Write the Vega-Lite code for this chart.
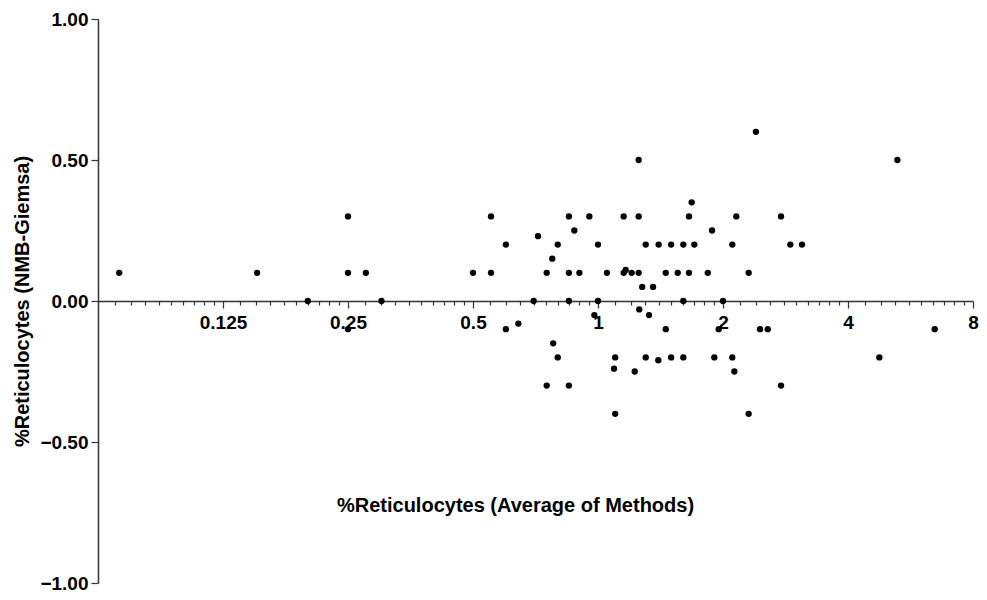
{
  "$schema": "https://vega.github.io/schema/vega-lite/v6.json",
  "width": 875,
  "height": 564,
  "autosize": {"type": "none"},
  "padding": {"left": 98, "top": 19, "right": 14, "bottom": 17},
  "background": "white",
  "config": {
    "view": {"stroke": null},
    "axis": {
      "grid": false,
      "domainColor": "#333333",
      "domainWidth": 1.5,
      "tickColor": "#333333",
      "tickWidth": 1.2,
      "labelFont": "Liberation Sans",
      "labelFontWeight": "bold",
      "labelFontSize": 19,
      "labelColor": "black",
      "titleFont": "Liberation Sans",
      "titleFontWeight": "bold",
      "titleFontSize": 20,
      "titleColor": "black"
    }
  },
  "data": {
    "values": [
      {"avg": 0.0703, "diff": 0.1},
      {"avg": 0.151, "diff": 0.1},
      {"avg": 0.2, "diff": 0},
      {"avg": 0.25, "diff": 0.3},
      {"avg": 0.25, "diff": 0.1},
      {"avg": 0.25, "diff": -0.1},
      {"avg": 0.276, "diff": 0.1},
      {"avg": 0.301, "diff": 0},
      {"avg": 0.5, "diff": 0.1},
      {"avg": 0.5525, "diff": 0.3},
      {"avg": 0.5525, "diff": 0.1},
      {"avg": 0.6, "diff": 0.2},
      {"avg": 0.6, "diff": -0.1},
      {"avg": 0.643, "diff": -0.08},
      {"avg": 0.7, "diff": 0},
      {"avg": 0.717, "diff": 0.23},
      {"avg": 0.7525, "diff": 0.1},
      {"avg": 0.7525, "diff": -0.3},
      {"avg": 0.776, "diff": 0.15},
      {"avg": 0.78, "diff": -0.15},
      {"avg": 0.8, "diff": 0.2},
      {"avg": 0.8, "diff": -0.2},
      {"avg": 0.851, "diff": 0.3},
      {"avg": 0.851, "diff": 0.1},
      {"avg": 0.851, "diff": 0},
      {"avg": 0.851, "diff": -0.3},
      {"avg": 0.877, "diff": 0.25},
      {"avg": 0.902, "diff": 0.1},
      {"avg": 0.953, "diff": 0.3},
      {"avg": 0.98, "diff": -0.05},
      {"avg": 1.0, "diff": 0.2},
      {"avg": 1.0, "diff": 0},
      {"avg": 1.051, "diff": 0.1},
      {"avg": 1.093, "diff": -0.24},
      {"avg": 1.1, "diff": -0.2},
      {"avg": 1.1, "diff": -0.4},
      {"avg": 1.153, "diff": 0.3},
      {"avg": 1.153, "diff": 0.1},
      {"avg": 1.166, "diff": 0.11},
      {"avg": 1.205, "diff": 0.1},
      {"avg": 1.226, "diff": -0.25},
      {"avg": 1.253, "diff": 0.5},
      {"avg": 1.253, "diff": 0.3},
      {"avg": 1.253, "diff": 0.1},
      {"avg": 1.257, "diff": -0.03},
      {"avg": 1.278, "diff": 0.05},
      {"avg": 1.303, "diff": 0.2},
      {"avg": 1.303, "diff": -0.2},
      {"avg": 1.327, "diff": -0.05},
      {"avg": 1.357, "diff": 0.05},
      {"avg": 1.397, "diff": -0.21},
      {"avg": 1.4, "diff": 0.2},
      {"avg": 1.456, "diff": 0.1},
      {"avg": 1.456, "diff": -0.1},
      {"avg": 1.5, "diff": 0.2},
      {"avg": 1.5, "diff": -0.2},
      {"avg": 1.556, "diff": 0.1},
      {"avg": 1.605, "diff": 0.2},
      {"avg": 1.605, "diff": 0},
      {"avg": 1.605, "diff": -0.2},
      {"avg": 1.656, "diff": 0.3},
      {"avg": 1.656, "diff": 0.1},
      {"avg": 1.681, "diff": 0.35},
      {"avg": 1.706, "diff": 0.2},
      {"avg": 1.838, "diff": 0.1},
      {"avg": 1.882, "diff": 0.25},
      {"avg": 1.906, "diff": -0.2},
      {"avg": 1.953, "diff": -0.1},
      {"avg": 2.0, "diff": 0},
      {"avg": 2.106, "diff": 0.2},
      {"avg": 2.106, "diff": -0.2},
      {"avg": 2.13, "diff": -0.25},
      {"avg": 2.153, "diff": 0.3},
      {"avg": 2.306, "diff": 0.1},
      {"avg": 2.306, "diff": -0.4},
      {"avg": 2.4, "diff": 0.6},
      {"avg": 2.456, "diff": -0.1},
      {"avg": 2.563, "diff": -0.1},
      {"avg": 2.759, "diff": 0.3},
      {"avg": 2.759, "diff": -0.3},
      {"avg": 2.905, "diff": 0.2},
      {"avg": 3.1, "diff": 0.2},
      {"avg": 4.76, "diff": -0.2},
      {"avg": 5.26, "diff": 0.5},
      {"avg": 6.47, "diff": -0.1}
    ]
  },
  "mark": {"type": "point", "filled": true, "color": "black", "size": 40, "opacity": 1},
  "encoding": {
    "x": {
      "field": "avg",
      "type": "quantitative",
      "scale": {"type": "log", "base": 2, "domain": [0.0625, 8], "nice": false},
      "axis": {
        "title": "%Reticulocytes (Average of Methods)",
        "offset": -282,
        "values": [0.06875, 0.075, 0.08125, 0.0875, 0.09375, 0.1, 0.10625, 0.1125, 0.11875, 0.125,
                   0.1375, 0.15, 0.1625, 0.175, 0.1875, 0.2, 0.2125, 0.225, 0.2375, 0.25,
                   0.275, 0.3, 0.325, 0.35, 0.375, 0.4, 0.425, 0.45, 0.475, 0.5,
                   0.55, 0.6, 0.65, 0.7, 0.75, 0.8, 0.85, 0.9, 0.95, 1,
                   1.1, 1.2, 1.3, 1.4, 1.5, 1.6, 1.7, 1.8, 1.9, 2,
                   2.2, 2.4, 2.6, 2.8, 3, 3.2, 3.4, 3.6, 3.8, 4,
                   4.4, 4.8, 5.2, 5.6, 6, 6.4, 6.8, 7.2, 7.6, 8],
        "labelExpr": "indexof([0.125,0.25,0.5,1,2,4,8], datum.value) >= 0 ? datum.value + '' : ''",
        "tickSize": {"condition": {"test": "indexof([0.125,0.25,0.5,1,2,4,8], datum.value) >= 0", "value": 7}, "value": 4},
        "labelPadding": 5,
        "labelOverlap": false,
        "labelFlush": false,
        "titleX": 417,
        "titleY": 204,
        "titleBaseline": "middle"
      }
    },
    "y": {
      "field": "diff",
      "type": "quantitative",
      "scale": {"domain": [-1, 1], "nice": false},
      "axis": {
        "title": "%Reticulocytes (NMB-Giemsa)",
        "values": [-1, -0.5, 0, 0.5, 1],
        "format": ".2f",
        "tickSize": 7,
        "labelPadding": 3,
        "labelOverlap": false,
        "labelFlush": false,
        "titleX": -76,
        "titleBaseline": "middle"
      }
    }
  }
}
